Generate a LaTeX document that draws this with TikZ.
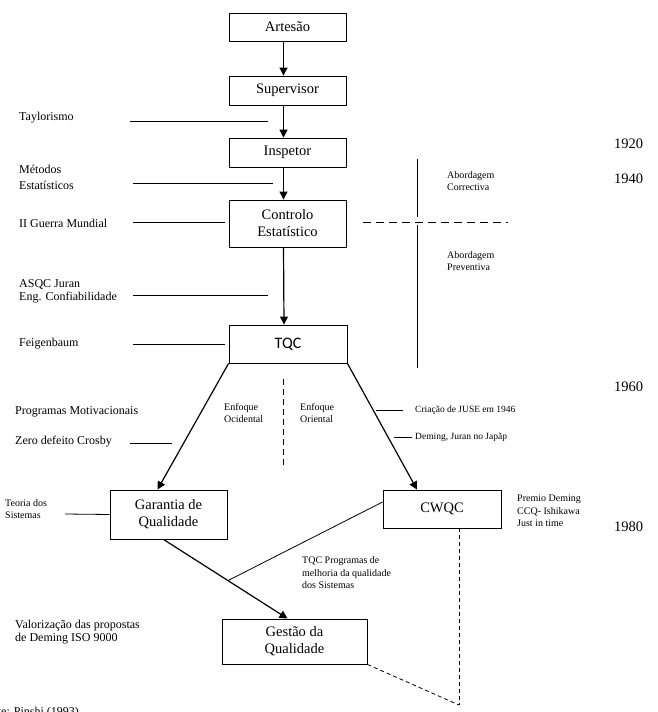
\documentclass[tikz,border=0pt]{standalone}
\usepackage{fontspec}
\setmainfont{Liberation Serif}
\newfontfamily\carl{Carlito}
\usetikzlibrary{arrows.meta}

\begin{document}
\begin{tikzpicture}
  [x=1pt, y=-1pt,
   box/.style={draw, line width=0.9pt, inner sep=0pt, align=center,
     minimum width=117pt, font=\fontsize{14.5}{17}\selectfont},
   lbl/.style={anchor=west, inner sep=0pt, align=left, font=\fontsize{12}{14}\selectfont},
   sml/.style={anchor=west, inner sep=0pt, align=left, font=\fontsize{10}{12.5}\selectfont},
   yr/.style={anchor=west, inner sep=0pt, font=\fontsize{14.5}{17}\selectfont},
   arr/.style={line width=1.2pt, -{Triangle[length=8pt,width=8pt]}},
   ln/.style={line width=0.8pt}]
  \useasboundingbox (0,0) rectangle (657,712);
  \clip (0,0) rectangle (657,712);

  % main chain
  \node [box, minimum height=28pt] (art) at (287.5,27) {Artesão};
  \node [box, minimum height=29pt] (sup) at (287.5,90.5) {Supervisor};
  \node [box, minimum height=29pt] (insp) at (287.5,152.5) {Inspetor};
  \node [box, minimum height=47pt] (ctrl) at (287.5,223.5) {Controlo\\Estatístico};
  \node [box, minimum height=38pt, minimum width=118pt, font=\carl\fontsize{16}{18}\selectfont] (tqc) at (288,344) {TQC};
  \node [box, minimum height=49pt] (gar) at (168.5,514.5) {Garantia de\\Qualidade};
  \node [box, minimum height=38pt, minimum width=118pt] (cw) at (442,509) {CWQC};
  \node [box, minimum height=45pt, minimum width=145pt] (gest) at (294.5,641.5) {Gestão da\\Qualidade};

  \foreach \a/\b in {art/sup, sup/insp, insp/ctrl, ctrl/tqc}
    \draw [arr] ([xshift=-4pt]\a.south) -- ([xshift=-4pt]\b.north);
  \draw [arr] (tqc.south west) -- ([xshift=-11pt]gar.north);
  \draw [arr] (tqc.south east) -- ([xshift=-25pt]cw.north);
  \draw [arr] ([xshift=-5pt]gar.south) -- coordinate[pos=0.52] (meet) ([xshift=-7pt]gest.north);
  \draw [ln] ([yshift=7pt]cw.west) -- (meet);

  % dashed corner
  \coordinate (corner) at (459,705);
  \draw [ln, dash pattern=on 4pt off 3pt] ([xshift=17pt]cw.south) -- (corner);
  \draw [ln, dash pattern=on 4pt off 3pt] (gest.south east) -- (corner);

  % left labels
  \node [lbl] (taylor) at (19,118) {Taylorismo};
  \node [lbl] (metodos) at (19,177) {Métodos\\[2pt]Estatísticos};
  \node [lbl] (guerra) at (19,223) {II Guerra Mundial};
  \node [lbl, font=\fontsize{12}{13}\selectfont] (asqc) at (19,291.5) {ASQC Juran\\Eng. Confiabilidade};
  \node [lbl] (feigen) at (19,344) {Feigenbaum};
  \node [lbl] (motiv) at (15,412) {Programas Motivacionais};
  \node [lbl] (crosby) at (15,442) {Zero defeito Crosby};
  \node [sml, font=\fontsize{10}{12}\selectfont] (teoria) at (5,509) {Teoria dos\\Sistemas};
  \node [lbl, font=\fontsize{12}{13}\selectfont] (valor) at (15,632) {Valorização das propostas\\de Deming ISO 9000};
  \node [lbl, anchor=base west] (fonte) at (-21,715) {Fonte: Pinshi (1993)};

  % leader lines
  \foreach \n/\xa/\xb/\y in {tl/130/268/121, ml/133/273/183, al/133/268/295,
      cl/130/172/443, jl/376/403/410, dl/394/412/437} {
    \coordinate (\n-a) at (\xa,\y);
    \coordinate (\n-b) at (\xb,\y);
    \draw [ln] (\n-a) -- (\n-b);
  }
  \coordinate (gl) at (133,222);
  \draw [ln] (gl) -- ([xshift=-4pt]gl -| ctrl.west);
  \coordinate (fl) at (133,344);
  \draw [ln] (fl) -- ([xshift=-4pt]tqc.west);
  \coordinate (sl) at (65,514);
  \draw [ln] (sl) -- (gar.west);

  % approach split
  \coordinate (v1) at (417,159);
  \coordinate (v2) at (417,217);
  \coordinate (v3) at (417,225);
  \coordinate (v4) at (417,368);
  \coordinate (h1) at (363,222);
  \coordinate (h2) at (508,222);
  \draw [ln] (v1) -- (v2);
  \draw [ln] (v3) -- (v4);
  \draw [ln, dash pattern=on 8pt off 5pt] (h1) -- (h2);
  \node [sml] (corr) at (447,181) {Abordagem\\Correctiva};
  \node [sml] (prev) at (447,261) {Abordagem\\Preventiva};

  % east / west
  \coordinate (e1) at (283,379);
  \coordinate (e2) at (283,469);
  \draw [ln, dash pattern=on 6pt off 4pt] (e1) -- (e2);
  \node [sml] (ocid) at (224,413) {Enfoque\\Ocidental};
  \node [sml] (orie) at (300,413) {Enfoque\\Oriental};

  % right labels
  \node [sml, font=\fontsize{9.5}{12}\selectfont] (juse) at (415,410) {Criação de JUSE em 1946};
  \node [sml, font=\fontsize{9.5}{12}\selectfont] (japao) at (415,437) {Deming, Juran no Japãp};
  \node [sml] (premio) at (517,511) {Premio Deming\\CCQ- Ishikawa\\Just in time};
  \node [sml] (melh) at (302,573) {TQC Programas de\\melhoria da qualidade\\dos Sistemas};

  % years
  \node [yr] (y20) at (614,144) {1920};
  \node [yr] (y40) at (614,179) {1940};
  \node [yr] (y60) at (614,387) {1960};
  \node [yr] (y80) at (614,527) {1980};
\end{tikzpicture}
\end{document}
